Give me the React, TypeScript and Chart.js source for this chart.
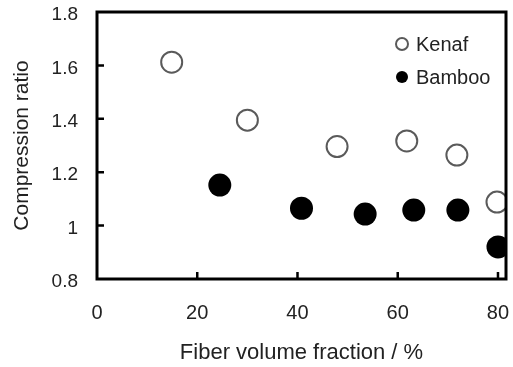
import React, { useEffect, useRef } from "react";
import { Chart, registerables } from "chart.js";

Chart.register(...registerables);

const kenafX = [14.9, 30.0, 47.9, 61.8, 71.8, 79.8];
const kenafY = [1.612, 1.395, 1.296, 1.317, 1.264, 1.088];
const bambooX = [24.5, 40.8, 53.5, 63.2, 72.0, 80.0];
const bambooY = [1.152, 1.065, 1.043, 1.058, 1.058, 0.92];
const xTicks = [0, 20, 40, 60, 80];
const yTicks = [0.8, 1.0, 1.2, 1.4, 1.6, 1.8];
const seriesNames = ["Kenaf", "Bamboo"];
const xTitle = "Fiber volume fraction / %";
const yTitle = "Compression ratio";

const FONT = "'Liberation Sans', Arial, sans-serif";

const framePlugin = {
  id: "frameTicks",
  afterDatasetsDraw(chart: any) {
    const { ctx, chartArea } = chart;
    const { left, right, top, bottom } = chartArea;
    const xs = chart.scales.x;
    const ys = chart.scales.y;
    ctx.save();
    ctx.strokeStyle = "#000";
    ctx.lineWidth = 2.5;
    ctx.beginPath();
    xs.ticks.forEach((t: any) => {
      const px = xs.getPixelForValue(t.value);
      if (Math.abs(px - left) < 2) return;
      ctx.moveTo(px, bottom);
      ctx.lineTo(px, bottom - 7);
    });
    ys.ticks.forEach((t: any) => {
      const py = ys.getPixelForValue(t.value);
      if (Math.abs(py - bottom) < 2 || Math.abs(py - top) < 2) return;
      ctx.moveTo(left, py);
      ctx.lineTo(left + 7, py);
    });
    ctx.stroke();
    ctx.lineWidth = 3;
    ctx.strokeRect(left, top, right - left, bottom - top);
    ctx.restore();
  },
};

const legendPlugin = {
  id: "insideLegend",
  afterDraw(chart: any) {
    const { ctx } = chart;
    const items = chart.data.datasets;
    ctx.save();
    ctx.font = `20px ${FONT}`;
    ctx.textBaseline = "middle";
    ctx.textAlign = "left";
    items.forEach((ds: any, i: number) => {
      const cx = 402;
      const cy = 44 + i * 33;
      ctx.beginPath();
      ctx.arc(cx, cy, 6, 0, Math.PI * 2);
      ctx.fillStyle = ds.backgroundColor;
      ctx.fill();
      ctx.lineWidth = ds.borderWidth;
      ctx.strokeStyle = ds.borderColor;
      if (ds.borderWidth > 0) ctx.stroke();
      ctx.fillStyle = "#222";
      ctx.fillText(ds.label, 416, cy + 1);
    });
    ctx.restore();
  },
};

export default function App() {
  const ref = useRef<HTMLCanvasElement | null>(null);
  useEffect(() => {
    if (!ref.current) return;
    const chart = new Chart(ref.current, {
      type: "scatter",
      data: {
        datasets: [
          {
            label: seriesNames[0],
            data: kenafX.map((x, i) => ({ x, y: kenafY[i] })),
            backgroundColor: "#ffffff",
            borderColor: "#5a5a5a",
            borderWidth: 2,
            pointRadius: 10.5,
            pointHoverRadius: 10.5,
          },
          {
            label: seriesNames[1],
            data: bambooX.map((x, i) => ({ x, y: bambooY[i] })),
            backgroundColor: "#000000",
            borderColor: "#000000",
            borderWidth: 0,
            pointRadius: 11.5,
            pointHoverRadius: 11.5,
          },
        ],
      },
      options: {
        responsive: false,
        animation: false,
        devicePixelRatio: 1,
        layout: { autoPadding: false, padding: { top: 12, right: 7, left: 0, bottom: 0 } },
        plugins: { legend: { display: false }, tooltip: { enabled: false } },
        scales: {
          x: {
            type: "linear",
            min: 0,
            max: 81.6,
            grid: { display: false, drawTicks: false },
            border: { display: false },
            afterBuildTicks: (s: any) => {
              s.ticks = xTicks.map((v) => ({ value: v }));
            },
            afterFit: (s: any) => {
              s.height = 88;
              s.paddingLeft = 0;
              s.paddingRight = 0;
            },
            ticks: {
              padding: 22,
              color: "#222",
              font: { family: FONT, size: 20 },
              maxRotation: 0,
              callback: (v: any) => String(v),
            },
            title: {
              display: true,
              text: xTitle,
              color: "#222",
              font: { family: FONT, size: 22 },
              padding: { top: 0, bottom: 1 },
            },
          },
          y: {
            type: "linear",
            min: 0.8,
            max: 1.8,
            grid: { display: false, drawTicks: false },
            border: { display: false },
            afterBuildTicks: (s: any) => {
              s.ticks = yTicks.map((v) => ({ value: v }));
            },
            afterFit: (s: any) => {
              s.width = 97;
              s.paddingTop = 0;
              s.paddingBottom = 0;
            },
            ticks: {
              padding: 19,
              labelOffset: 3,
              color: "#222",
              font: { family: FONT, size: 19 },
              callback: (v: any) => String(Math.round(Number(v) * 10) / 10),
            },
            title: {
              display: true,
              text: yTitle,
              color: "#222",
              font: { family: FONT, size: 21 },
              padding: { top: 10, bottom: 0 },
            },
          },
        },
      },
      plugins: [framePlugin, legendPlugin],
    });
    return () => chart.destroy();
  }, []);
  return (
    <div style={{ position: "absolute", left: 0, top: 0, width: 513, height: 367, background: "#fff" }}>
      <canvas ref={ref} width={513} height={367} style={{ display: "block" }} />
    </div>
  );
}
